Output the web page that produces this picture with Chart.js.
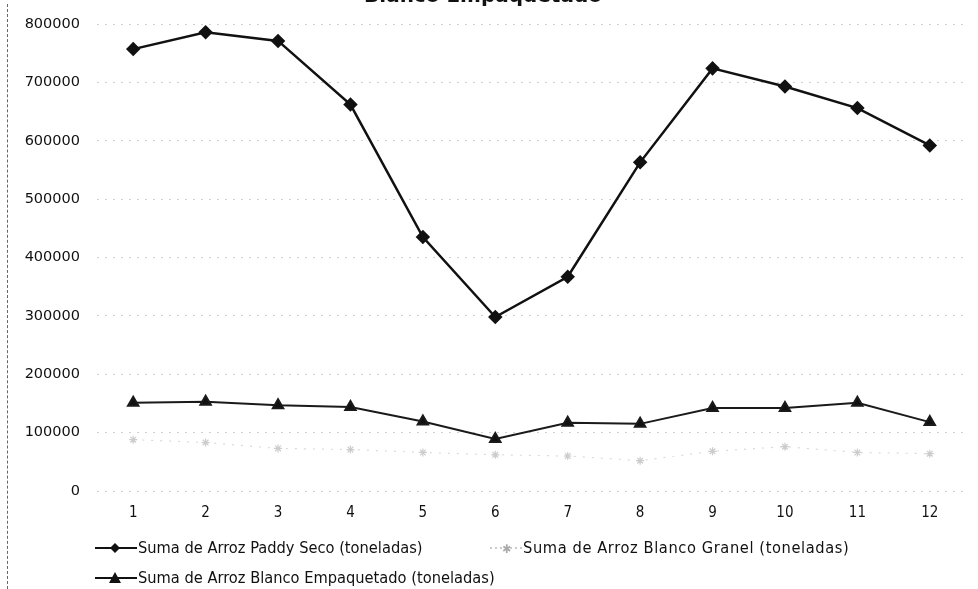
<!DOCTYPE html>
<html>
<head>
<meta charset="utf-8">
<script src="https://cdn.jsdelivr.net/npm/chart.js@4"></script>
<style>
  html, body { margin: 0; padding: 0; background: #fff; width: 978px; height: 589px; overflow: hidden; }
  #wrap { position: absolute; left: 0; top: -16px; width: 978px; height: 605px; }
  #frame { position: absolute; left: 7px; top: 4px; width: 0; height: 585px; border-left: 1px dashed #666; }
  .leg { position: absolute; font-family: "DejaVu Sans Condensed", "DejaVu Sans", sans-serif; font-size: 16.3px; color: #111; white-space: nowrap; display: flex; align-items: center; }
  .leg svg { margin-right: 1px; }
</style>
</head>
<body>
<div id="frame"></div>
<div id="wrap"><canvas id="c" width="978" height="605"></canvas></div>
<div class="leg" style="left:95px; top:538px;">
  <svg width="42" height="14"><line x1="0" y1="7" x2="42" y2="7" stroke="#111" stroke-width="2"/><polygon points="20,2 25,7 20,12 15,7" fill="#111"/></svg>
  <span>Suma de Arroz Paddy Seco (toneladas)</span>
</div>
<div class="leg" style="left:490px; top:538px;">
  <svg width="32" height="14"><line x1="0" y1="7" x2="32" y2="7" stroke="#bbb" stroke-width="1.5" stroke-dasharray="2,3"/><text x="12" y="12" font-size="12" fill="#aaa">✱</text></svg>
  <span style="letter-spacing:0.6px">Suma de Arroz Blanco Granel (toneladas)</span>
</div>
<div class="leg" style="left:95px; top:568px;">
  <svg width="42" height="14"><line x1="0" y1="7" x2="42" y2="7" stroke="#111" stroke-width="2"/><polygon points="20,1 26,12 14,12" fill="#111"/></svg>
  <span>Suma de Arroz Blanco Empaquetado (toneladas)</span>
</div>
<script>
const categories = ['1','2','3','4','5','6','7','8','9','10','11','12'];
const paddySeco = [757000, 786000, 771000, 662000, 435000, 298000, 367000, 563000, 724000, 693000, 656000, 592000];
const blancoGranel = [88000, 83000, 73000, 71000, 66000, 62000, 60000, 52000, 68000, 76000, 66000, 64000];
const blancoEmpaquetado = [151000, 153000, 147000, 144000, 119000, 89000, 117000, 115000, 142000, 142000, 151000, 118000];
const seriesNames = ['Suma de Arroz Paddy Seco (toneladas)', 'Suma de Arroz Blanco Granel (toneladas)', 'Suma de Arroz Blanco Empaquetado (toneladas)'];
const titleText = 'Blanco Empaquetado';
const yMin = 0, yMax = 800000, yStep = 100000;

new Chart(document.getElementById('c'), {
  type: 'line',
  data: {
    labels: categories,
    datasets: [
      { label: seriesNames[0], data: paddySeco, borderColor: '#111', backgroundColor: '#111', borderWidth: 2.5,
        pointStyle: 'rectRot', pointRadius: 5.5, pointHoverRadius: 5.5, tension: 0 },
      { label: seriesNames[1], data: blancoGranel, borderColor: '#dadada', backgroundColor: '#cccccc', borderWidth: 1.2,
        borderDash: [2, 7], pointStyle: 'star', pointRadius: 4, pointBorderColor: '#cccccc', tension: 0 },
      { label: seriesNames[2], data: blancoEmpaquetado, borderColor: '#1a1a1a', backgroundColor: '#111', borderWidth: 2,
        pointStyle: 'triangle', pointRadius: 6, pointHoverRadius: 6, tension: 0 }
    ]
  },
  options: {
    responsive: false,
    animation: false,
    layout: { padding: { left: 0, right: 12, top: 0, bottom: 58 } },
    plugins: {
      legend: { display: false },
      tooltip: { enabled: false },
      title: { display: true, text: titleText, color: '#111',
        font: { family: 'DejaVu Sans', size: 20, weight: 'bold' }, padding: { top: 1, bottom: 15 } }
    },
    scales: {
      x: {
        offset: true,
        grid: { display: false, drawTicks: false },
        border: { display: false },
        ticks: { color: '#111', padding: 13, font: { family: 'DejaVu Sans Condensed', size: 15 } },
        afterFit: (s) => { s.height = 40; }
      },
      y: {
        min: yMin, max: yMax,
        grid: { color: '#d0d0d0', lineWidth: 1, drawTicks: false },
        border: { display: false, dash: [2, 6] },
        ticks: { stepSize: yStep, color: '#111', padding: 17, font: { family: 'DejaVu Sans', size: 14.5 },
          callback: (v) => String(v) },
        afterFit: (s) => { s.width = 97; }
      }
    }
  }
});
</script>
</body>
</html>
